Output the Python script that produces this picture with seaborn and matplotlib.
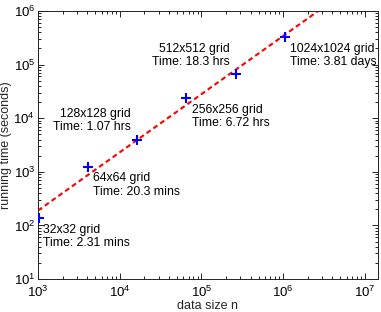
import numpy as np
import pandas as pd
import matplotlib
matplotlib.use("Agg")
import matplotlib.pyplot as plt
import seaborn as sns

# ---- data ----
grid_labels = ["32x32 grid", "64x64 grid", "128x128 grid", "256x256 grid", "512x512 grid", "1024x1024 grid"]
time_labels = ["Time: 2.31 mins", "Time: 20.3 mins", "Time: 1.07 hrs", "Time: 6.72 hrs", "Time: 18.3 hrs", "Time: 3.81 days"]
data_size = [1024, 4096, 16384, 65536, 262144, 1048576]
running_time = [2.31 * 60, 20.3 * 60, 1.07 * 3600, 6.72 * 3600, 18.3 * 3600, 3.81 * 86400]
x_ticks = [1e3, 1e4, 1e5, 1e6, 1e7]
y_ticks = [1e1, 1e2, 1e3, 1e4, 1e5, 1e6]

# label placement: (dx px, dy px, ha, va)
label_place = [(4, -6, "left", "top"), (5, -5, "left", "top"), (-6, 7, "right", "bottom"),
               (6, -6, "left", "top"), (-6, 6, "right", "bottom"), (5, -6, "left", "top")]

sns.set_style("ticks")
plt.rcParams["font.family"] = ["Liberation Sans", "DejaVu Sans"]
plt.rcParams["mathtext.fontset"] = "custom"
plt.rcParams["mathtext.rm"] = "Liberation Sans"
plt.rcParams["mathtext.it"] = "Liberation Sans:italic"

df = pd.DataFrame({"n": data_size, "t": running_time})

fig = plt.figure(figsize=(3.81, 3.12), dpi=100)
ax = fig.add_axes([38 / 381, 1 - 279 / 312, (377.5 - 38) / 381, (279 - 11) / 312])
ax.set_xscale("log")
ax.set_yscale("log")
xlim = (1e3, 1.43e7)
ax.set_xlim(*xlim)
ax.set_ylim(1e1, 1e6)

# power-law least squares fit
b, a = np.polyfit(np.log10(df["n"]), np.log10(df["t"]), 1)
fit_df = pd.DataFrame({"n": list(xlim), "t": [10 ** (a + b * np.log10(v)) for v in xlim]})
sns.lineplot(data=fit_df, x="n", y="t", ax=ax, color="red", linewidth=1.5,
             linestyle=(0, (2.4, 1.6)), sort=False, estimator=None)

sns.scatterplot(data=df, x="n", y="t", ax=ax, marker="+", s=55, color="blue",
                linewidth=1.5, zorder=3)

for xi, yi, g, tl, (dx, dy, ha, va) in zip(data_size, running_time, grid_labels, time_labels, label_place):
    ax.annotate(g + "\n" + tl, xy=(xi, yi), xytext=(dx, dy), textcoords="offset pixels",
                ha=ha, va=va, multialignment=ha, fontsize=8.8, linespacing=1.15, color="black")

ax.set_xticks(x_ticks)
ax.set_yticks(y_ticks)
ax.set_xticklabels([r"$10^{%d}$" % int(np.log10(v)) for v in x_ticks])
ax.set_yticklabels([r"$10^{%d}$" % int(np.log10(v)) for v in y_ticks])
ax.tick_params(which="both", direction="in", top=True, right=True, labelsize=9.5, colors="black", width=0.6)
ax.tick_params(which="major", length=4, pad=2)
ax.tick_params(axis="x", which="major", pad=4)
ax.tick_params(which="minor", length=2)
for sp in ax.spines.values():
    sp.set_linewidth(0.7)
    sp.set_color("#222222")

ax.set_xlabel("data size n", fontsize=9, labelpad=0)
ax.set_ylabel("running time (seconds)", fontsize=9, labelpad=1)

fig.savefig("out.png", dpi=100)
